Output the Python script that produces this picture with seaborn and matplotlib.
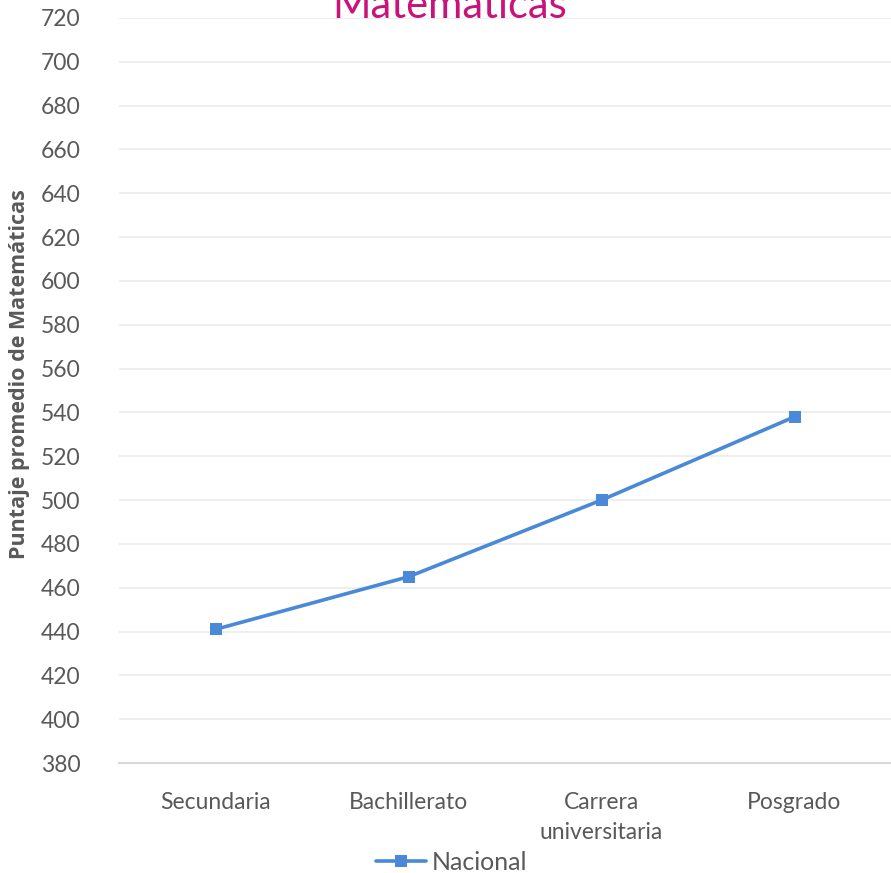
import pandas as pd
import matplotlib
matplotlib.use("Agg")
import matplotlib.pyplot as plt
import seaborn as sns

niveles = ["Secundaria", "Bachillerato", "Carrera\nuniversitaria", "Posgrado"]
puntaje = [441, 465, 500, 538]
serie = "Nacional"
y_ticks = list(range(380, 721, 20))

df = pd.DataFrame({"nivel": niveles, "puntaje": puntaje, "serie": serie})

sns.set_style("white")
plt.rcParams["font.family"] = ["Lato", "DejaVu Sans"]

fig = plt.figure(figsize=(8.91, 8.73), dpi=100)
ax = fig.add_axes([0.1336, 0.126, 0.8664, 0.8534])

sns.lineplot(data=df, x="nivel", y="puntaje", hue="serie", palette=["#4A88D8"],
             marker="s", markersize=8, markeredgewidth=0, linewidth=2.6,
             sort=False, ax=ax, legend=False)

ax.set_ylim(380, 720)
ax.set_xlim(-0.5, 3.5)
ax.set_yticks(y_ticks)
ax.yaxis.grid(True, color="#EBEBEB", linewidth=1.2)
ax.xaxis.grid(False)
ax.set_axisbelow(True)
for s in ["top", "right", "left"]:
    ax.spines[s].set_visible(False)
ax.spines["bottom"].set_color("#D9D9D9")
ax.spines["bottom"].set_linewidth(1.5)
ax.tick_params(axis="both", length=0, labelsize=16.5, colors="#595959")
ax.tick_params(axis="y", pad=28)
ax.tick_params(axis="x", pad=21)
for lbl in ax.get_xticklabels():
    lbl.set_linespacing(1.5)
ax.set_xlabel("")
ax.set_ylabel("Puntaje promedio de Matemáticas", fontsize=15.5, fontweight="bold",
              color="#595959", family=["Open Sans", "DejaVu Sans"])
ax.yaxis.set_label_coords(-0.115, 0.522)

fig.text(0.505, 1 - 18 / 873, "Matemáticas", ha="center", va="baseline",
         fontsize=30, color="#C8137A")

handle = plt.Line2D([], [], color="#4A88D8", linewidth=2.6, marker="s",
                    markersize=8, markeredgewidth=0)
fig.legend([handle], [serie], loc="lower center", bbox_to_anchor=(0.507, -0.027),
           frameon=False, fontsize=18, labelcolor="#595959",
           handlelength=2.0, handletextpad=0.2)

fig.savefig("out.png", dpi=100)
